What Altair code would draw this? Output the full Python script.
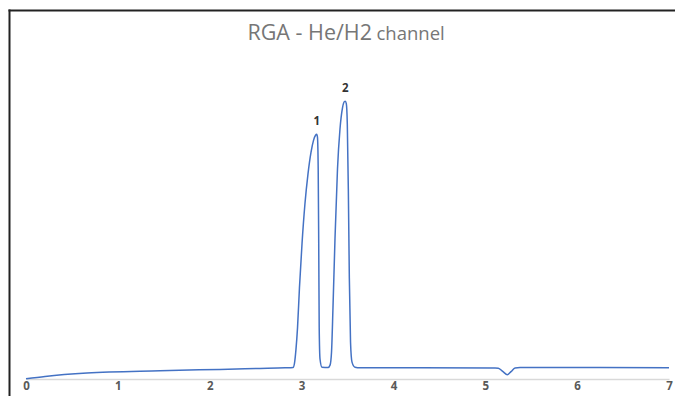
import altair as alt
import pandas as pd

# Chromatogram trace (time in minutes, relative signal)
time_min = [0.0, 0.207, 0.664, 1.459, 2.112, 2.547, 2.820, 2.907, 2.923, 2.939,
            2.956, 2.977, 3.005, 3.037, 3.070, 3.103, 3.130, 3.152, 3.165, 3.173,
            3.181, 3.187, 3.192, 3.201, 3.222, 3.288, 3.310, 3.326, 3.342, 3.364,
            3.391, 3.418, 3.446, 3.467, 3.476, 3.487, 3.498, 3.509, 3.520, 3.533,
            3.549, 3.582, 3.636, 4.289, 5.106, 5.142, 5.193, 5.240, 5.280, 5.324,
            5.378, 6.249, 7.0]
signal = [0.1, 0.8, 1.86, 2.58, 3.01, 3.3, 3.5, 3.6, 5.0, 9.3,
          16.1, 28.6, 42.5, 55.0, 64.3, 71.1, 74.8, 76.4, 76.7, 75.8,
          65.8, 41.0, 16.1, 6.2, 3.7, 3.57, 4.35, 8.4, 22.4, 44.1,
          65.8, 78.3, 85.1, 87.0, 87.1, 86.3, 79.8, 59.6, 31.7, 11.5,
          5.3, 3.7, 3.5, 3.5, 3.45, 3.4, 2.3, 1.35, 2.3, 3.45,
          3.57, 3.57, 3.55]

peak_time = [3.165, 3.476]
peak_height = [76.7, 87.1]
peak_label = ["1", "2"]

x_ticks = [0, 1, 2, 3, 4, 5, 6, 7]

title_main = "RGA - He/H2"
title_small = "channel"

trace = pd.DataFrame({"t": time_min, "s": signal})
peaks = pd.DataFrame({"t": peak_time, "s": peak_height, "label": peak_label})

x_scale = alt.Scale(domain=[0, 7], nice=False, zero=False)
y_scale = alt.Scale(domain=[0, 100], nice=False, zero=False)

line = alt.Chart(trace).mark_line(
    color="#4472C4", strokeWidth=1.5, interpolate="monotone"
).encode(
    x=alt.X("t:Q", scale=x_scale,
            axis=alt.Axis(values=x_ticks, format="d", title=None, grid=False,
                          ticks=False, domainColor="#d9d9d9", domainWidth=1.5,
                          labelFont="Open Sans", labelFontWeight="bold",
                          labelFontSize=11.5, labelColor="#595959",
                          labelPadding=1, labelFlush=False, labelBound=False)),
    y=alt.Y("s:Q", scale=y_scale, axis=None),
)

labels = alt.Chart(peaks).mark_text(
    font="Open Sans", fontSize=11.5, fontWeight="bold", color="#333333",
    dy=-9, baseline="alphabetic"
).encode(
    x=alt.X("t:Q", scale=x_scale),
    y=alt.Y("s:Q", scale=y_scale),
    text="label:N",
)

one = alt.Data(values=[{"a": 1}])

t1 = alt.Chart(one).mark_text(
    text=title_main, font="Open Sans", fontSize=21.5, color="#767676",
    align="right", baseline="alphabetic"
).encode(x=alt.value(346), y=alt.value(-20.5))

t2 = alt.Chart(one).mark_text(
    text=title_small, font="Open Sans", fontSize=18.5, color="#767676",
    align="left", baseline="alphabetic"
).encode(x=alt.value(350.5), y=alt.value(-20.5))

frame_top = alt.Chart(one).mark_rule(color="#222222", strokeWidth=2).encode(
    x=alt.value(-17.5), x2=alt.value(700), y=alt.value(-49.5)
)
frame_left = alt.Chart(one).mark_rule(color="#222222", strokeWidth=2).encode(
    x=alt.value(-16.5), y=alt.value(-50.5), y2=alt.value(400)
)

chart = alt.layer(line, labels, t1, t2, frame_top, frame_left).properties(
    width=643, height=319,
    autosize=alt.AutoSizeParams(type="none"),
    padding={"left": 18, "top": 52, "right": 6, "bottom": 17},
    background="white",
).configure_view(stroke=None)

chart.save("out.html", embed_options={"renderer": "svg", "actions": False})
